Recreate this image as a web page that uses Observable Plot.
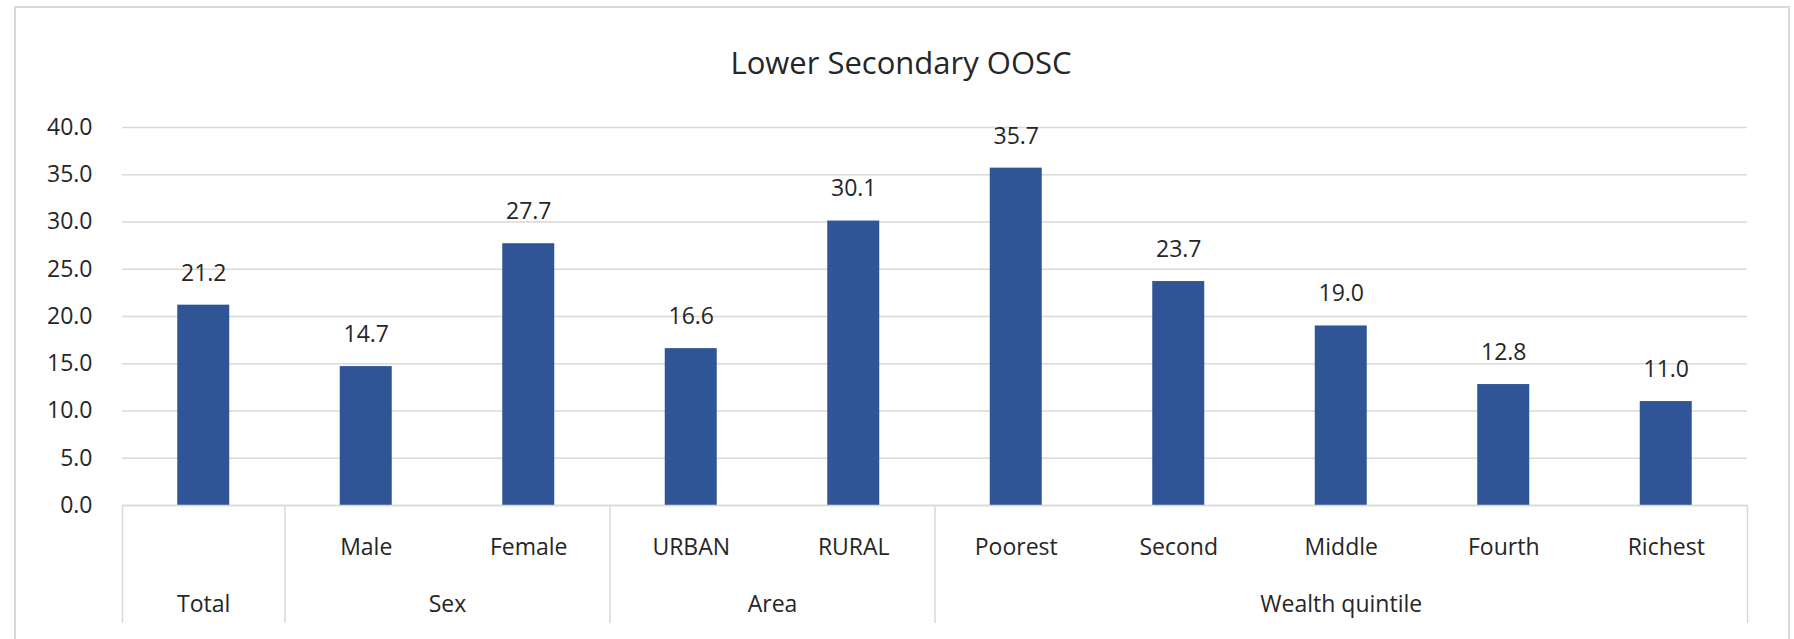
<!DOCTYPE html>
<html>
<head>
<meta charset="utf-8">
<script src="https://cdn.jsdelivr.net/npm/d3@7"></script>
<script src="https://cdn.jsdelivr.net/npm/@observablehq/plot@0.6"></script>
<style>
  html, body { margin: 0; padding: 0; background: #fff; overflow: hidden; }
  #wrap { position: relative; width: 1794px; height: 639px; font-family: "Open Sans", sans-serif; color: #262626; }
  #frame { position: absolute; left: 14px; top: 6px; width: 1776px; height: 800px; border: 2px solid #d9d9d9; box-sizing: border-box; pointer-events: none; }
  #title { position: relative; height: 100px; }
  #title span { position: absolute; left: 0; width: 1802px; top: 42px; line-height: 40px; text-align: center; font-size: 31px; }
  #chart svg { display: block; }
</style>
</head>
<body>
<div id="wrap">
  <div id="title"><span>Lower Secondary OOSC</span></div>
  <div id="chart"></div>
  <div id="frame"></div>
</div>
<script>
// ---- data ----
const categories = ["", "Male", "Female", "URBAN", "RURAL", "Poorest", "Second", "Middle", "Fourth", "Richest"];
const values = [21.2, 14.7, 27.7, 16.6, 30.1, 35.7, 23.7, 19.0, 12.8, 11.0];
const groupNames = ["Total", "Sex", "Area", "Wealth quintile"];
const groupSizes = [1, 2, 2, 5];
const yTicks = [0, 5, 10, 15, 20, 25, 30, 35, 40];

// ---- derived tables ----
const data = categories.map((c, i) => ({i, label: c, value: values[i]}));
let start = 0;
const groups = groupNames.map((g, k) => {
  const s = start, e = start + groupSizes[k] - 1;
  start += groupSizes[k];
  return {name: g, center: (s + e) / 2, left: s - 0.5, right: e + 0.5};
});
const boundaries = [groups[0].left, ...groups.map(g => g.right)];

const fmt = d3.format(".1f");
const grid = "#d9d9d9";
const barColor = "#2F5597";

const chart = Plot.plot({
  width: 1794,
  height: 539,
  marginTop: 27,
  marginBottom: 134,
  marginLeft: 122,
  marginRight: 47,
  style: {fontFamily: "Open Sans, sans-serif", fontSize: "23px", color: "#262626", background: "transparent"},
  x: {type: "linear", domain: [-0.5, categories.length - 0.5], axis: null},
  y: {domain: [0, 40], axis: null},
  marks: [
    Plot.gridY(yTicks, {stroke: grid, strokeOpacity: 1, strokeWidth: 1.5}),
    Plot.axisY(yTicks, {label: null, tickSize: 0, tickPadding: 30, tickFormat: fmt, fontSize: 23, fill: "#262626"}),
    Plot.rectY(data, {x1: d => d.i - 0.16, x2: d => d.i + 0.16, y: "value", fill: barColor}),
    Plot.text(data, {x: "i", y: "value", text: d => fmt(d.value), dy: -32, fontSize: 23, fill: "#262626"}),
    Plot.axisX(data.map(d => d.i), {label: null, tickSize: 0, tickPadding: 42, lineAnchor: "middle", tickFormat: i => categories[i], fontSize: 23, fill: "#262626"}),
    Plot.axisX(boundaries, {label: null, tickSize: 118, tickFormat: () => "", stroke: grid, strokeOpacity: 1, strokeWidth: 1.5}),
    Plot.ruleY([0], {stroke: grid, strokeWidth: 1.5}),
    Plot.text(groups, {x: "center", text: "name", frameAnchor: "bottom", lineAnchor: "middle", dy: 99, fontSize: 23, fill: "#262626"})
  ]
});
document.getElementById("chart").appendChild(chart);
</script>
</body>
</html>
